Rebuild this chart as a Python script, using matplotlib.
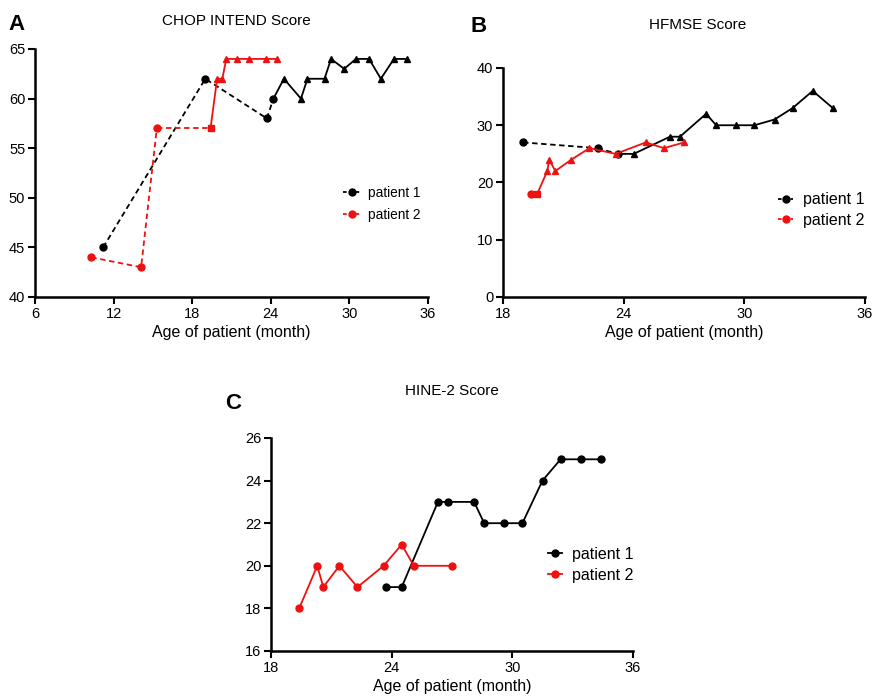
import matplotlib
matplotlib.use("Agg")
import matplotlib.pyplot as plt
from matplotlib.lines import Line2D

plt.rcParams['font.family'] = ['Liberation Sans', 'DejaVu Sans']

# ---------------- Data ----------------
# Panel A: CHOP INTEND
a_p1_dash_x = [11.2, 19.0, 23.7, 24.2]
a_p1_dash_y = [45, 62, 58, 60]
a_p1_solid_x = [24.2, 25.0, 26.3, 26.8, 28.1, 28.6, 29.6, 30.5, 31.5, 32.4, 33.4, 34.4]
a_p1_solid_y = [60, 62, 60, 62, 62, 64, 63, 64, 64, 62, 64, 64]
a_p2_dash_x = [10.3, 14.1, 15.3, 19.4]
a_p2_dash_y = [44, 43, 57, 57]
a_p2_solid_x = [19.4, 19.9, 20.3, 20.6, 21.4, 22.3, 23.6, 24.5]
a_p2_solid_y = [57, 62, 62, 64, 64, 64, 64, 64]

# Panel B: HFMSE
b_p1_dash_x = [19.0, 22.7, 23.7]
b_p1_dash_y = [27, 26, 25]
b_p1_solid_x = [23.7, 24.5, 26.3, 26.8, 28.1, 28.6, 29.6, 30.5, 31.5, 32.4, 33.4, 34.4]
b_p1_solid_y = [25, 25, 28, 28, 32, 30, 30, 30, 31, 33, 36, 33]
b_p2_dash_x = [19.4, 19.7]
b_p2_dash_y = [18, 18]
b_p2_solid_x = [19.7, 20.2, 20.3, 20.6, 21.4, 22.3, 23.6, 25.1, 26.0, 27.0]
b_p2_solid_y = [18, 22, 24, 22, 24, 26, 25, 27, 26, 27]

# Panel C: HINE-2
c_p1_x = [23.7, 24.5, 26.3, 26.8, 28.1, 28.6, 29.6, 30.5, 31.5, 32.4, 33.4, 34.4]
c_p1_y = [19, 19, 23, 23, 23, 22, 22, 22, 24, 25, 25, 25]
c_p2_x = [19.4, 20.3, 20.6, 21.4, 22.3, 23.6, 24.5, 25.1, 27.0]
c_p2_y = [18, 20, 19, 20, 19, 20, 21, 20, 20]

labels = ["patient 1", "patient 2"]
titles = ["CHOP INTEND Score", "HFMSE Score", "HINE-2 Score"]
xlabel = "Age of patient (month)"

# ---------------- Figure ----------------
W, H = 873, 698
fig = plt.figure(figsize=(W / 100, H / 100), dpi=100)

def ax_px(l, t, r, b):
    return fig.add_axes([l / W, 1 - b / H, (r - l) / W, (b - t) / H])

RED = '#ee1111'
BLK = '#000000'
lw = 1.3
ms = 5
dash = (0, (3, 2))

def style(ax, xlim, xticks, ylim, yticks):
    ax.set_xlim(*xlim)
    ax.set_ylim(*ylim)
    ax.set_xticks(xticks)
    ax.set_yticks(yticks)
    for s in ['top', 'right']:
        ax.spines[s].set_visible(False)
    for s in ['left', 'bottom']:
        ax.spines[s].set_linewidth(1.8)
    ax.tick_params(width=1.5, length=5, labelsize=10.5, pad=2)

def draw_two_phase(ax, dx, dy, sx, sy, color, jmarker):
    ax.plot(dx[:-1], dy[:-1], linestyle=dash, color=color, lw=lw, marker='o', ms=ms, clip_on=False)
    ax.plot(dx[-1:], dy[-1:], linestyle='none', color=color, marker=jmarker, ms=ms, clip_on=False)
    ax.plot(dx[-2:], dy[-2:], linestyle=dash, color=color, lw=lw)
    ax.plot(sx[1:], sy[1:], linestyle='none', color=color, marker='^', ms=ms, clip_on=False)
    ax.plot(sx, sy, linestyle='-', color=color, lw=lw)

def put_legend(handles, x_px, y_px, fs, hl, ls):
    fig.legend(handles, labels, loc='center left', bbox_to_anchor=(x_px / W, 1 - y_px / H),
               bbox_transform=fig.transFigure, frameon=False, fontsize=fs,
               handlelength=hl, handletextpad=0.6, labelspacing=ls,
               borderpad=0, borderaxespad=0)

def dash_handles():
    return [Line2D([], [], color=BLK, ls=(0, (2, 1.5)), lw=lw, marker='o', ms=ms),
            Line2D([], [], color=RED, ls=(0, (2, 1.5)), lw=lw, marker='o', ms=ms)]

# Panel A
axA = ax_px(35, 49, 428, 297)
style(axA, (6, 36), [6, 12, 18, 24, 30, 36], (40, 65), [40, 45, 50, 55, 60, 65])
draw_two_phase(axA, a_p1_dash_x, a_p1_dash_y, a_p1_solid_x, a_p1_solid_y, BLK, 'o')
draw_two_phase(axA, a_p2_dash_x, a_p2_dash_y, a_p2_solid_x, a_p2_solid_y, RED, 's')
put_legend(dash_handles(), 343, 204, 9.8, 1.25, 0.55)
axA.set_xlabel(xlabel, fontsize=11.5, labelpad=3)

# Panel B
axB = ax_px(503, 68, 865, 297)
style(axB, (18, 36), [18, 24, 30, 36], (0, 40), [0, 10, 20, 30, 40])
draw_two_phase(axB, b_p1_dash_x, b_p1_dash_y, b_p1_solid_x, b_p1_solid_y, BLK, 'o')
draw_two_phase(axB, b_p2_dash_x, b_p2_dash_y, b_p2_solid_x, b_p2_solid_y, RED, 's')
put_legend(dash_handles(), 778, 210, 11.5, 0.95, 0.35)
axB.set_xlabel(xlabel, fontsize=11.5, labelpad=3)

# Panel C
axC = ax_px(271, 438, 633, 651)
style(axC, (18, 36), [18, 24, 30, 36], (16, 26), [16, 18, 20, 22, 24, 26])
lc1, = axC.plot(c_p1_x, c_p1_y, color=BLK, lw=lw, marker='o', ms=ms, clip_on=False)
lc2, = axC.plot(c_p2_x, c_p2_y, color=RED, lw=lw, marker='o', ms=ms, clip_on=False)
put_legend([lc1, lc2], 548, 565, 11.5, 0.9, 0.38)
axC.set_xlabel(xlabel, fontsize=11.5, labelpad=3)

# Titles and panel letters
fig.text(236 / W, 1 - 21 / H, titles[0], ha='center', va='center', fontsize=11)
fig.text(698 / W, 1 - 25 / H, titles[1], ha='center', va='center', fontsize=11)
fig.text(452 / W, 1 - 391 / H, titles[2], ha='center', va='center', fontsize=11)
fig.text(8 / W, 1 - 25 / H, "A", ha='left', va='center', fontsize=16, fontweight='bold')
fig.text(470 / W, 1 - 26 / H, "B", ha='left', va='center', fontsize=16, fontweight='bold')
fig.text(225 / W, 1 - 404 / H, "C", ha='left', va='center', fontsize=16, fontweight='bold')

fig.savefig("out.png", dpi=100)
